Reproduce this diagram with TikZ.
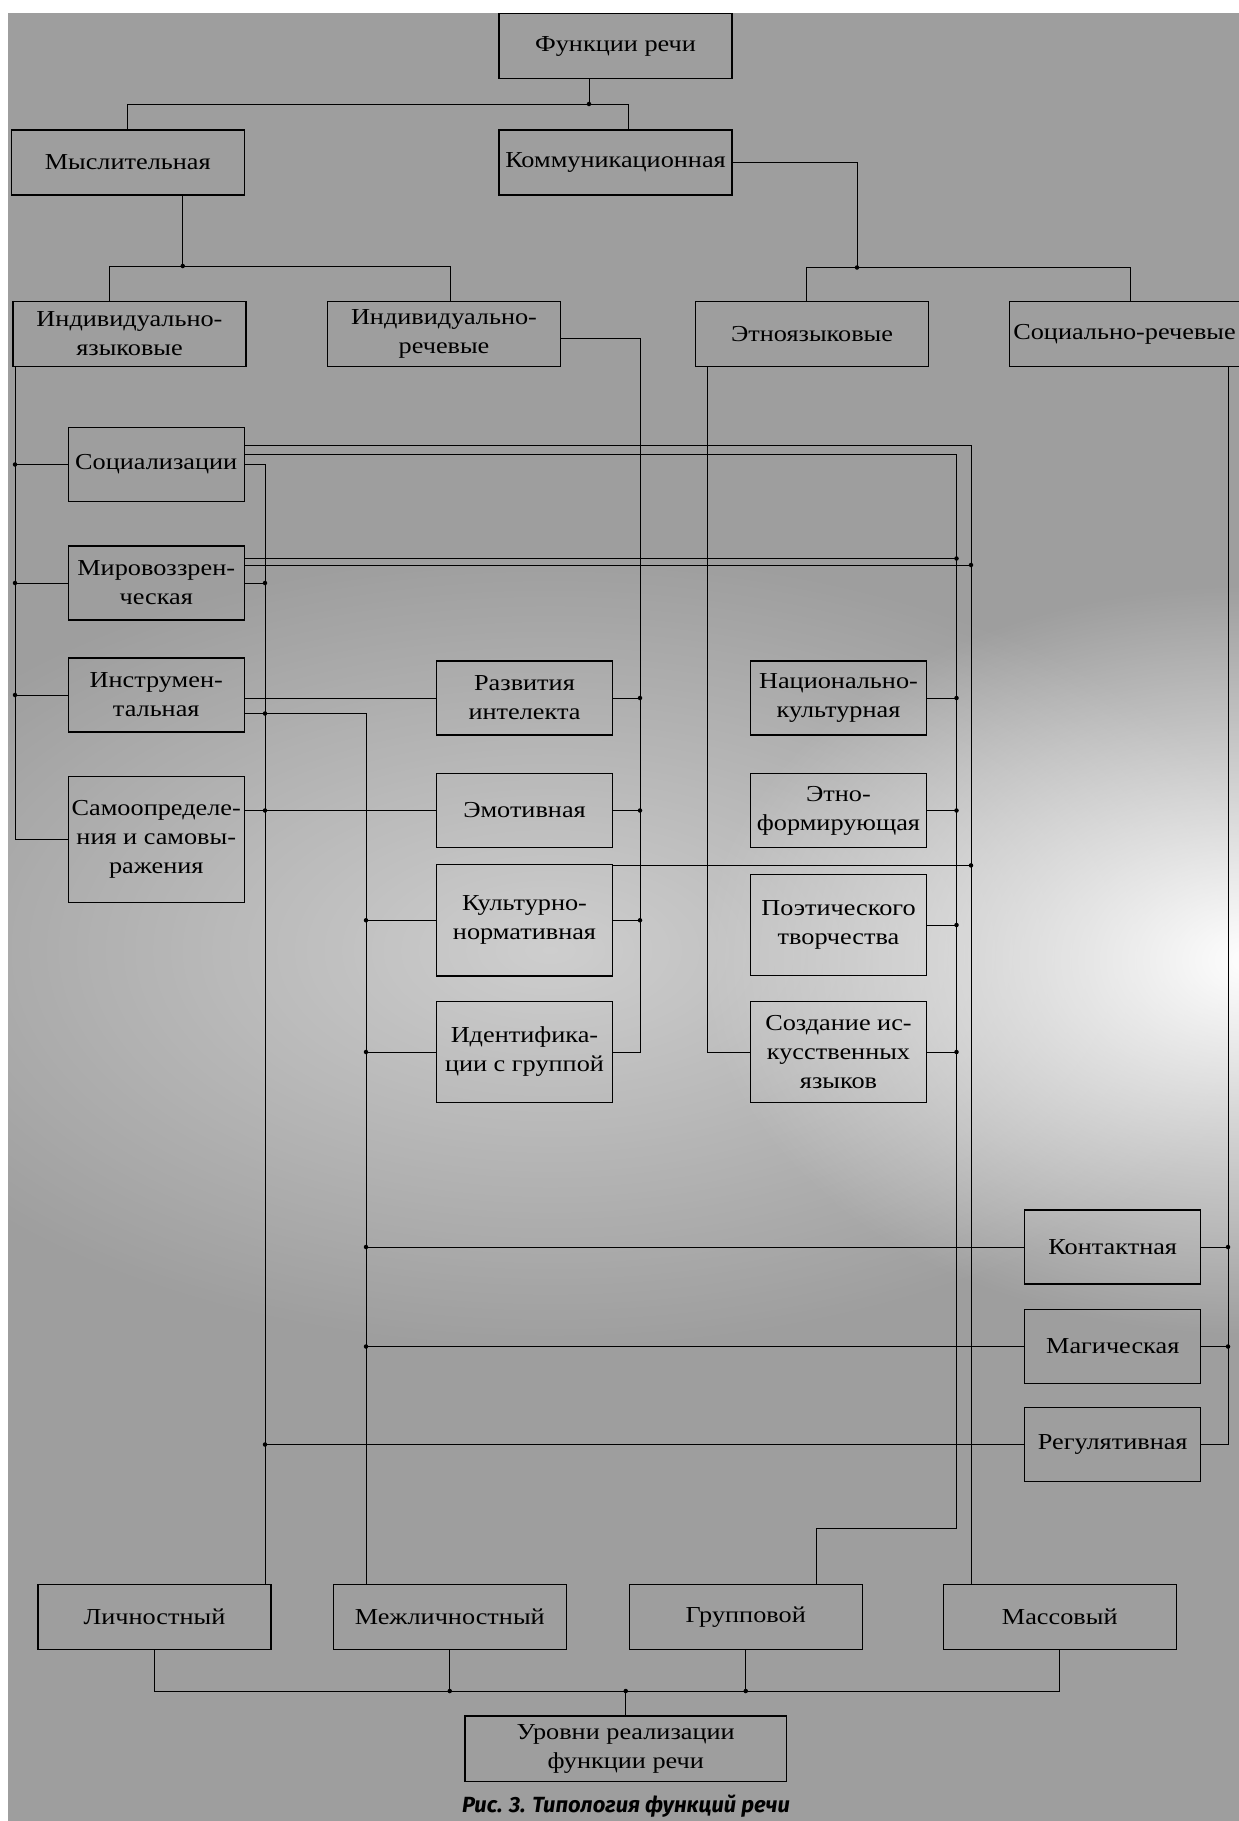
\documentclass[tikz,border=0pt]{standalone}
\usepackage{fontspec}
\setmainfont{Liberation Serif}[FakeStretch=1.15]
\newfontfamily\capfont{Fira Sans}
\usetikzlibrary{fadings}
\definecolor{bggray}{RGB}{158,158,158}
\tikzfading[name=glowfade, inner color=transparent!0, outer color=transparent!100]

\begin{document}
\begin{tikzpicture}[
    box/.style={draw, line width=0.7pt, align=center, inner sep=1pt,
        font=\fontsize{13}{16.5}\selectfont, minimum height=1.3cm},
    wide/.style={box, minimum width=4.66cm},
    small/.style={box, minimum width=3.52cm, minimum height=1.48cm},
    jn/.style={circle, fill, inner sep=0pt, minimum size=0.9mm},
    line width=0.55pt]

    \useasboundingbox (0,0) rectangle (24.78,-36.42);
    \fill[bggray] (0.17,-0.26) rectangle (24.78,-36.42);
    \fill[white, opacity=0.5, path fading=glowfade] (11,-19) ellipse (15 and 8);
    \fill[white, path fading=glowfade] (25,-19.2) ellipse (11 and 7.5);

    \node[wide] (funk) at (12.31,-0.925) {Функции речи};
    \node[wide] (mysl) at (2.555,-3.25) {Мыслительная};
    \node[wide] (komm) at (12.31,-3.25) {Коммуникационная};

    \node[wide] (indyaz) at (2.59,-6.68) {Индивидуально-\\языковые};
    \node[wide] (indrech) at (8.88,-6.68) {Индивидуально-\\речевые};
    \node[wide] (etno) at (16.24,-6.68) {Этноязыковые};
    \node[wide, minimum width=4.61cm] (socrech) at (22.49,-6.68) {Социально-речевые};

    \node[small] (soc) at (3.125,-9.29) {Социализации};
    \node[small] (mir) at (3.125,-11.66) {Мировоззрен-\\ческая};
    \node[small] (instr) at (3.125,-13.90) {Инструмен-\\тальная};
    \node[small, minimum height=2.52cm] (samo) at (3.125,-16.79) {Самоопределе-\\ния и самовы-\\ражения};

    \node[small] (razv) at (10.49,-13.96) {Развития\\интелекта};
    \node[small] (emot) at (10.49,-16.21) {Эмотивная};
    \node[small, minimum height=2.23cm] (kult) at (10.49,-18.405) {Культурно-\\нормативная};
    \node[small, minimum height=2.02cm] (ident) at (10.49,-21.04) {Идентифика-\\ции с группой};

    \node[small] (nac) at (16.77,-13.96) {Национально-\\культурная};
    \node[small] (etnof) at (16.77,-16.21) {Этно-\\формирующая};
    \node[small, minimum height=2.03cm] (poet) at (16.77,-18.50) {Поэтического\\творчества};
    \node[small, minimum height=2.02cm] (sozd) at (16.77,-21.04) {Создание ис-\\кусственных\\языков};

    \node[small] (kont) at (22.255,-24.94) {Контактная};
    \node[small] (mag) at (22.255,-26.93) {Магическая};
    \node[small] (reg) at (22.255,-28.89) {Регулятивная};

    \node[wide] (lich) at (3.09,-32.345) {Личностный};
    \node[wide] (mezh) at (8.995,-32.345) {Межличностный};
    \node[wide] (grup) at (14.915,-32.345) {Групповой};
    \node[wide] (mass) at (21.195,-32.345) {Массовый};
    \node[box, minimum width=6.43cm, minimum height=1.31cm] (urov) at (12.515,-34.975) {Уровни реализации\\функции речи};
    \node[font=\capfont\bfseries\itshape\fontsize{12.5}{14}\selectfont] (capt) at (12.52,-36.13) {Рис. 3. Типология функций речи};

    \coordinate (xl) at (0.30,0);
    \coordinate (xlich) at (5.30,0);
    \coordinate (xmezh) at (7.32,0);
    \coordinate (xrech) at (12.80,0);
    \coordinate (xetno) at (14.14,0);
    \coordinate (xgrup) at (19.13,0);
    \coordinate (xmass) at (19.42,0);
    \coordinate (xsoc) at (24.56,0);

    \coordinate (t1) at ([xshift=-5.3mm]funk.south);
    \coordinate (t2) at ([xshift=2.6mm]komm.north);
    \coordinate (ty) at (0,-2.08);
    \draw (t1) -- (t1 |- ty) node[jn]{};
    \draw (mysl.north) |- (t2 |- ty) -- (t2);

    \coordinate (m1) at ([xshift=1.1cm]mysl.south);
    \coordinate (m2) at ([xshift=-4mm]indyaz.north);
    \coordinate (m3) at ([xshift=1.2mm]indrech.north);
    \coordinate (my) at (0,-5.32);
    \draw (m1) -- (m1 |- my) node[jn]{};
    \draw (m2) |- (m3 |- my) -- (m3);

    \coordinate (k1) at (17.14,0);
    \coordinate (k2) at ([xshift=-1.2mm]etno.north);
    \coordinate (k3) at ([xshift=1.1mm]socrech.north);
    \coordinate (ky) at (0,-5.35);
    \draw (komm.east) -| (k1 |- ky) node[jn]{};
    \draw (k2) |- (k3 |- ky) -- (k3);

    \draw (indyaz.south -| xl) |- (samo.west);
    \draw (soc.west) -- (soc.west -| xl) node[jn]{};
    \draw (mir.west) -- (mir.west -| xl) node[jn]{};
    \draw (instr.west) -- (instr.west -| xl) node[jn]{};

    \draw (soc.east) -| (lich.north -| xlich);
    \draw (mir.east) -- (mir.east -| xlich) node[jn]{};
    \coordinate (i2) at ([yshift=-3.7mm]instr.east);
    \draw (i2) -| (mezh.north -| xmezh);
    \node[jn] at (i2 -| xlich) {};
    \draw (instr.east |- razv.west) -- (razv.west);
    \draw (samo.east |- emot.west) -- (emot.west);
    \node[jn] at (emot.west -| xlich) {};
    \draw (reg.west) -- (reg.west -| xlich) node[jn]{};

    \coordinate (s1) at ([yshift=3.9mm]soc.east);
    \coordinate (s2) at ([yshift=2.1mm]soc.east);
    \coordinate (gk) at (16.32,-30.57);
    \draw (s1) -| (mass.north -| xmass);
    \draw (s2) -| (gk -| xgrup) -| (grup.north -| gk);
    \coordinate (w1) at ([yshift=4.9mm]mir.east);
    \coordinate (w2) at ([yshift=3.6mm]mir.east);
    \draw (w1) -- (w1 -| xgrup) node[jn]{};
    \draw (w2) -- (w2 -| xmass) node[jn]{};
    \coordinate (c1) at ([yshift=-0.3mm]kult.north east);
    \draw (c1) -- (c1 -| xmass) node[jn]{};

    \draw ([yshift=-0.8mm]indrech.east) -| (ident.east -| xrech) -- (ident.east);
    \draw (razv.east) -- (razv.east -| xrech) node[jn]{};
    \draw (emot.east) -- (emot.east -| xrech) node[jn]{};
    \draw (kult.east) -- (kult.east -| xrech) node[jn]{};
    \draw (kult.west) -- (kult.west -| xmezh) node[jn]{};
    \draw (ident.west) -- (ident.west -| xmezh) node[jn]{};

    \draw (etno.south -| xetno) |- (sozd.west);
    \draw (nac.east) -- (nac.east -| xgrup) node[jn]{};
    \draw (etnof.east) -- (etnof.east -| xgrup) node[jn]{};
    \draw (poet.east) -- (poet.east -| xgrup) node[jn]{};
    \draw (sozd.east) -- (sozd.east -| xgrup) node[jn]{};

    \draw (socrech.south -| xsoc) |- (reg.east);
    \draw (kont.east) -- (kont.east -| xsoc) node[jn]{};
    \draw (mag.east) -- (mag.east -| xsoc) node[jn]{};
    \draw (kont.west) -- (kont.west -| xmezh) node[jn]{};
    \draw (mag.west) -- (mag.west -| xmezh) node[jn]{};

    \coordinate (by) at (0,-33.82);
    \draw (lich.south) |- (mass.south |- by) -- (mass.south);
    \draw (mezh.south) -- (mezh.south |- by) node[jn]{};
    \draw (grup.south) -- (grup.south |- by) node[jn]{};
    \draw (urov.north) -- (urov.north |- by) node[jn]{};
\end{tikzpicture}
\end{document}
